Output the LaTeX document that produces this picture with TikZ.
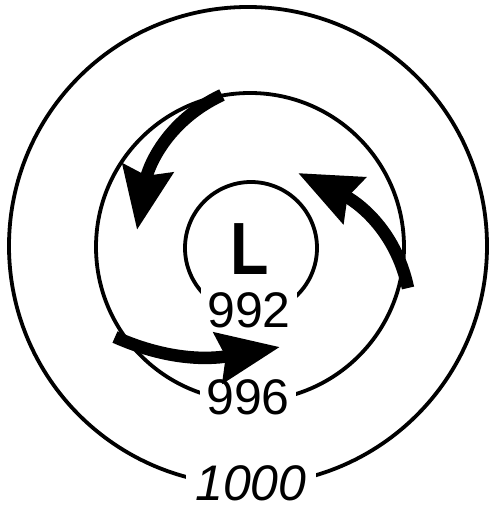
\documentclass[tikz,border=0pt]{standalone}
\usepackage{fontspec}
\setmainfont{Liberation Sans}
\usetikzlibrary{arrows.meta}

\begin{document}
\begin{tikzpicture}[x=1pt,y=1pt,
  isobar/.style={line width=3.8pt},
  wind/.style={line width=12.5pt,-{Stealth[length=62pt,width=50pt,inset=7pt]}},
  pval/.style={fill=white,inner sep=6pt,font=\fontsize{50}{50}\selectfont}]
\useasboundingbox (-248,247) rectangle (243,-263);
% isobars
\draw[isobar] (0,1) circle [radius=239];
\draw[isobar] (2,0) circle [radius=154];
\draw[isobar] (3,-1) circle [radius=66];
% low centre and pressure values
\node (low) at (2,-2) {\fontsize{74}{74}\selectfont\bfseries\scalebox{0.85}[1]{L}};
\node[pval] (p992) at (1,-63.5) {992};
\node[pval] (p996) at (0,-150) {996};
\node[pval,inner sep=9pt,font=\fontsize{50}{50}\selectfont\itshape] (p1000) at (3,-236.5) {1000};
% winds
\coordinate (w1a) at (-26,152);
\coordinate (w1b) at (-111,17);
\coordinate (w2a) at (160,-41);
\coordinate (w2b) at (50,74);
\coordinate (w3a) at (-133,-90);
\coordinate (w3b) at (32,-100);
\draw[wind] (w1a) to[out=205,in=80] (w1b);
\draw[wind] (w2a) to[out=102,in=-26] (w2b);
\draw[wind] (w3a) to[out=-24,in=190] (w3b);
\end{tikzpicture}
\end{document}
